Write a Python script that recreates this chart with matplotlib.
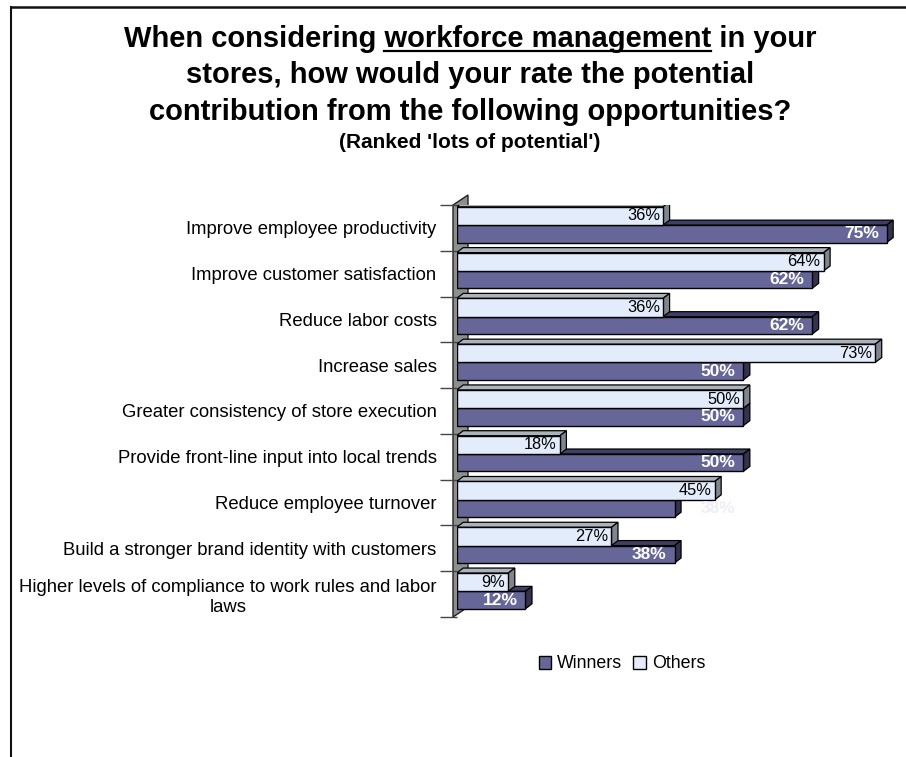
import matplotlib
matplotlib.use("Agg")
import matplotlib.pyplot as plt
from matplotlib.patches import Polygon, Patch
from matplotlib.lines import Line2D
from matplotlib.transforms import offset_copy

plt.rcParams['font.family'] = ['Liberation Sans', 'DejaVu Sans']

# ---- data -------------------------------------------------------------
categories = [
    "Improve employee productivity",
    "Improve customer satisfaction",
    "Reduce labor costs",
    "Increase sales",
    "Greater consistency of store execution",
    "Provide front-line input into local trends",
    "Reduce employee turnover",
    "Build a stronger brand identity with customers",
    "Higher levels of compliance to work rules and labor\nlaws",
]
winners = [75, 62, 62, 50, 50, 50, 38, 38, 12]
others = [36, 64, 36, 73, 50, 18, 45, 27, 9]
series_names = ["Winners", "Others"]

# ---- styling ----------------------------------------------------------
W_FRONT, W_TOP, W_SIDE = "#666699", "#3f3f66", "#33334d"
O_FRONT, O_TOP, O_SIDE = "#e3ecfa", "#aab2bc", "#7f868f"
WALL = "#8e8e8e"
EDGE = "#000000"
TITLE_SIZE = 21

FW, FH = 906, 757
fig = plt.figure(figsize=(FW / 100, FH / 100), dpi=100)

# plot area in pixels
x0_px, y_top_px, y_bot_px = 456.7, 205.0, 617.0
px_per_pct = 5.733
ax = fig.add_axes([x0_px / FW, 1 - y_bot_px / FH,
                   (FW - x0_px) / FW, (y_bot_px - y_top_px) / FH])
n = len(categories)
ax.set_xlim(0, (FW - x0_px) / px_per_pct)
ax.set_ylim(n, 0)
band_px = (y_bot_px - y_top_px) / n

# depth of the 3-D extrusion, converted to data units
dx = 6.5 / px_per_pct
dy = 5.0 / band_px


def bar3d(v, ytop, h, front, top, side, z):
    ybot = ytop + h
    ax.add_patch(Polygon([(0, ytop), (v, ytop), (v + dx, ytop - dy), (dx, ytop - dy)],
                         closed=True, facecolor=top, edgecolor=EDGE, lw=0.9, zorder=z,
                         joinstyle="miter"))
    ax.add_patch(Polygon([(v, ytop), (v + dx, ytop - dy), (v + dx, ybot - dy), (v, ybot)],
                         closed=True, facecolor=side, edgecolor=EDGE, lw=0.9, zorder=z,
                         joinstyle="miter"))
    ax.barh(ytop, v, height=h, align="edge", color=front, edgecolor=EDGE,
            linewidth=1.0, zorder=z + 0.1)


o_off, o_h = 0.04, 0.40
w_off, w_h = 0.44, 0.38
for i in range(n):
    bar3d(winners[i], i + w_off, w_h, W_FRONT, W_TOP, W_SIDE, 3)
    bar3d(others[i], i + o_off, o_h, O_FRONT, O_TOP, O_SIDE, 4)

# value labels
for i in range(n):
    t = offset_copy(ax.transData, fig=fig, x=-3, y=0, units="dots")
    ax.text(others[i], i + o_off + o_h / 2, f"{others[i]}%", transform=t,
            ha="right", va="center", fontsize=11.8, color="black", zorder=10)
    hidden = categories[i] == "Reduce employee turnover"
    shift = 61 if hidden else -8
    t = offset_copy(ax.transData, fig=fig, x=shift, y=0, units="dots")
    ax.text(winners[i], i + w_off + w_h / 2, f"{winners[i]}%", transform=t,
            ha="right", va="center", fontsize=12.5, fontweight="bold",
            color="#eeeef5" if hidden else "white", zorder=10)

# floor slab on the left
wall_front = -3.7 / px_per_pct
wall_back = 11.3 / px_per_pct
wall_dy = 10.0 / band_px
ax.add_patch(Polygon([(wall_front, n), (wall_front, 0), (wall_back, -wall_dy),
                      (wall_back, n - wall_dy)], closed=True, facecolor=WALL,
                     edgecolor="#222222", lw=1.0, zorder=1, clip_on=False))

# axis ticks and category labels
ax.set_yticks(range(n + 1))
ax.set_yticklabels([])
ax.tick_params(axis="y", which="major", direction="out", length=12.2,
               width=1.0, color="#444444")
ax.set_yticks([i + 0.5 for i in range(n)], minor=True)
ax.set_yticklabels(categories, minor=True, fontsize=13.3, ha="right",
                   multialignment="center")
ax.tick_params(axis="y", which="minor", length=0, pad=14.5)
ax.set_xticks([])
for s in ax.spines.values():
    s.set_visible(False)
ax.patch.set_visible(False)

# legend
handles = [Patch(facecolor=W_FRONT, edgecolor=EDGE, lw=1.0),
           Patch(facecolor=O_FRONT, edgecolor=EDGE, lw=1.0)]
fig.legend(handles, series_names, loc="center", bbox_to_anchor=(622 / FW, 1 - 664 / FH),
           ncol=2, frameon=False, fontsize=12.8, handlelength=0.7, handleheight=0.7,
           handletextpad=0.35, columnspacing=0.6, borderpad=0)

# title
cx = 470 / FW
title_kw = dict(ha="center", va="baseline", fontsize=TITLE_SIZE, fontweight="bold")
line1 = "When considering workforce management in your"
t1 = fig.text(cx, 1 - 46.7 / FH, line1, **title_kw)
fig.text(cx, 1 - 83.3 / FH, "stores, how would your rate the potential", **title_kw)
fig.text(cx, 1 - 120 / FH, "contribution from the following opportunities?", **title_kw)
fig.text(cx, 1 - 148.3 / FH, "(Ranked 'lots of potential')", ha="center",
         va="baseline", fontsize=15, fontweight="bold")

# underline "workforce management"
renderer = fig.canvas.get_renderer()
bb = t1.get_window_extent(renderer)


def text_width(s):
    tmp = fig.text(0, 0, s, fontsize=TITLE_SIZE, fontweight="bold")
    w = tmp.get_window_extent(renderer).width
    tmp.remove()
    return w


w_upto = text_width("When considering workforce management")
w_word = text_width("workforce management")
ux0 = bb.x0 + w_upto - w_word
ux1 = bb.x0 + w_upto
uy = 1 - 51 / FH
fig.add_artist(Line2D([ux0 / FW, ux1 / FW], [uy, uy], transform=fig.transFigure,
                      color="black", lw=1.6))

# outer frame (left and top edges)
fig.add_artist(Line2D([10.5 / FW, 10.5 / FW], [0, 1 - 7 / FH], transform=fig.transFigure,
                      color="#111111", lw=1.5))
fig.add_artist(Line2D([10.5 / FW, 1], [1 - 7 / FH, 1 - 7 / FH], transform=fig.transFigure,
                      color="#111111", lw=1.8))

fig.savefig("out.png", dpi=100)
